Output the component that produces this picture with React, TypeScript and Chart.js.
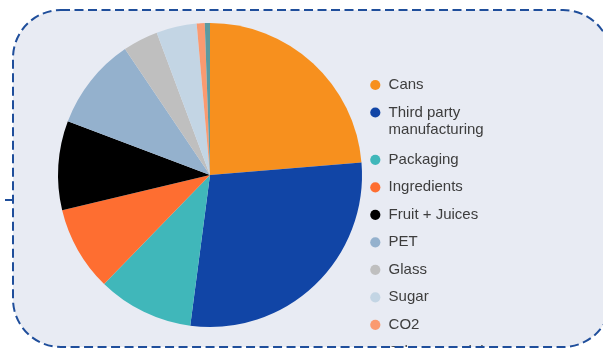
import React, { useEffect, useRef } from "react";
import { Chart, registerables } from "chart.js";

Chart.register(...registerables);

const categories: (string | string[])[] = [
  "Cans",
  ["Third party", "manufacturing"],
  "Packaging",
  "Ingredients",
  "Fruit + Juices",
  "PET",
  "Glass",
  "Sugar",
  "CO2",
  "Other materials",
];

const shares: number[] = [23.7, 28.4, 10.2, 9.0, 9.5, 9.8, 3.75, 4.3, 0.85, 0.55];

const sliceColors: string[] = [
  "#F7901E",
  "#1145A6",
  "#40B7BA",
  "#FE6E31",
  "#000000",
  "#94B1CD",
  "#BFBFBF",
  "#C3D5E4",
  "#FA9A70",
  "#5C9AA0",
];

const CANVAS_TOP = -40;
const CANVAS_H = 430;
const BOX_X = 13;
const BOX_Y = 10;
const BOX_W = 598;
const BOX_H = 337;
const BOX_R = 48;

export default function App() {
  const ref = useRef<HTMLCanvasElement | null>(null);

  useEffect(() => {
    if (!ref.current) return;
    const chart = new Chart(ref.current, {
      type: "pie",
      data: {
        labels: categories as any,
        datasets: [
          {
            data: shares,
            backgroundColor: sliceColors,
            borderWidth: 0,
            radius: 152,
          } as any,
        ],
      },
      options: {
        responsive: false,
        animation: false,
        layout: { padding: { left: 63, right: 116, top: 0, bottom: 0 } },
        plugins: {
          tooltip: { enabled: false },
          legend: {
            display: true,
            position: "right",
            align: "start",
            maxWidth: 130,
            title: {
              display: true,
              text: " ",
              font: { size: 12, lineHeight: 1.2 },
              padding: { top: 90.6, bottom: 0 },
            },
            labels: {
              usePointStyle: true,
              pointStyle: "circle",
              boxWidth: 11.6,
              boxHeight: 7.2,
              padding: 12.5,
              color: "#3d3d3d",
              font: { family: "'Liberation Sans', Arial, sans-serif", size: 15, lineHeight: 1.16 },
            },
          } as any,
        },
      },
    });
    return () => chart.destroy();
  }, []);

  return (
    <div
      style={{
        position: "fixed",
        left: 0,
        top: 0,
        width: 603,
        height: 349,
        overflow: "hidden",
        background: "#ffffff",
      }}
    >
      <div
        style={{
          position: "absolute",
          left: BOX_X,
          top: BOX_Y,
          width: BOX_W,
          height: BOX_H,
          borderRadius: BOX_R,
          overflow: "hidden",
          background: "#E8EBF3",
        }}
      >
        <canvas
          ref={ref}
          width={603}
          height={CANVAS_H}
          style={{
            position: "absolute",
            left: -BOX_X,
            top: CANVAS_TOP - BOX_Y,
            width: 603,
            height: CANVAS_H,
          }}
        />
      </div>
      <svg
        width={603}
        height={349}
        style={{ position: "absolute", left: 0, top: 0, pointerEvents: "none" }}
      >
        <rect
          x={BOX_X}
          y={BOX_Y}
          width={BOX_W}
          height={BOX_H}
          rx={BOX_R}
          ry={BOX_R}
          fill="none"
          stroke="#1F4E9B"
          strokeWidth={2}
          strokeDasharray="9 4.5"
        />
        <line x1={5} y1={200} x2={13} y2={200} stroke="#1F4E9B" strokeWidth={2} />
      </svg>
    </div>
  );
}
